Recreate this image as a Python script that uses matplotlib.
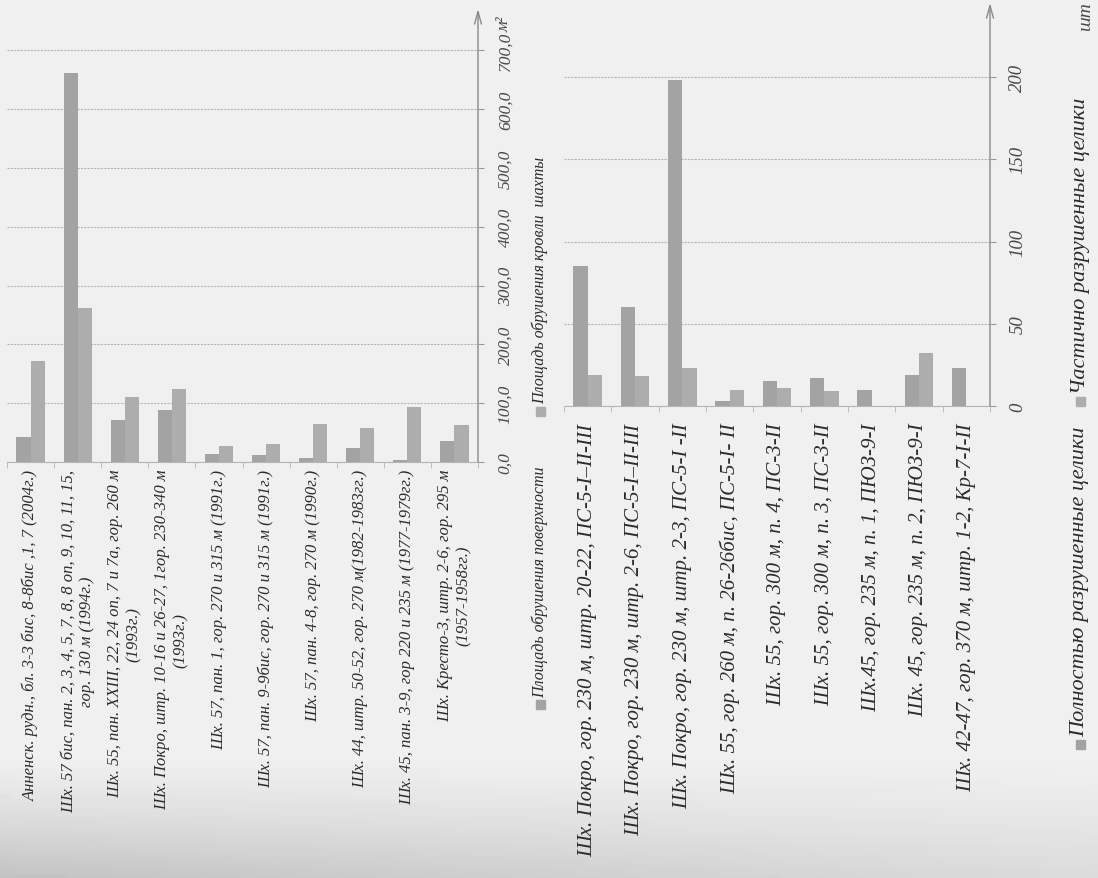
import numpy as np
import matplotlib.pyplot as plt
from matplotlib.patches import Rectangle

# left chart: collapse area, m2
left_cats = [
    "Анненск. рудн., бл. 3-3 бис, 8-8бис ,1, 7 (2004г.)",
    "Шх. 57 бис, пан. 2, 3, 4, 5, 7, 8, 8 оп, 9, 10, 11, 15,\nгор. 130 м (1994г.)",
    "Шх. 55, пан. XXIII, 22, 24 оп, 7 и 7а, гор. 260 м\n(1993г.)",
    "Шх. Покро, штр. 10-16 и 26-27, 1гор. 230-340 м\n(1993г.)",
    "Шх. 57, пан. 1, гор. 270 и 315 м (1991г.)",
    "Шх. 57, пан. 9-9бис, гор. 270 и 315 м (1991г.)",
    "Шх. 57, пан. 4-8, гор. 270 м (1990г.)",
    "Шх. 44, штр. 50-52, гор. 270 м(1982-1983гг.)",
    "Шх. 45, пан. 3-9, гор 220 и 235 м (1977-1979гг.)",
    "Шх. Кресто-3, штр. 2-6, гор. 295 м\n(1957-1958гг.)",
]
surface_area = [42, 662, 72, 89, 14, 12, 7, 24, 4, 35]
roof_area = [171, 262, 110, 124, 28, 30, 65, 57, 93, 63]
left_ticks = [0, 100, 200, 300, 400, 500, 600, 700]
left_ticklabels = ["0,0", "100,0", "200,0", "300,0", "400,0", "500,0", "600,0", "700,0"]
left_legend = ["Площадь обрушения поверхности", "Площадь обрушения кровли  шахты"]

# right chart: destroyed pillars, pcs
right_cats = [
    "Шх. Покро, гор. 230 м, штр. 20-22, ПС-5-I–II-III",
    "Шх. Покро, гор. 230 м, штр. 2-6, ПС-5-I–II-III",
    "Шх. Покро, гор. 230 м, штр. 2-3, ПС-5-I -II",
    "Шх. 55, гор. 260 м, п. 26-26бис, ПС-5-I- II",
    "Шх. 55, гор. 300 м, п. 4, ПС-3-II",
    "Шх. 55, гор. 300 м, п. 3, ПС-3-II",
    "Шх.45, гор. 235 м, п. 1, ПЮЗ-9-I",
    "Шх. 45, гор. 235 м, п. 2, ПЮЗ-9-I",
    "Шх. 42-47, гор. 370 м, штр. 1-2, Кр-7-I-II",
]
full_destroyed = [85, 60, 198, 3, 15, 17, 10, 19, 23]
part_destroyed = [19, 18, 23, 10, 11, 9, 0, 32, 0]
right_ticks = [0, 50, 100, 150, 200]
right_ticklabels = ["0", "50", "100", "150", "200"]
right_legend = ["Полностью разрушенные целики", "Частично разрушенные целики"]

W, H = 1098, 879
bg = "#eeeeee"
c1, c2 = "#a3a3a3", "#adadad"
txt = "#2b2b2b"
font = dict(family="Liberation Serif", style="italic")

fig = plt.figure(figsize=(W / 100, H / 100), dpi=100, facecolor=bg)

# soft page shading
bax = fig.add_axes([0, 0, 1, 1], zorder=-5)
yy, xx = np.mgrid[0:1:200j, 0:1:200j]
shade = 0.94 - 0.16 * np.clip((yy - 0.86) / 0.14, 0, 1) ** 1.3 * (1.1 - 0.6 * xx)
bax.imshow(shade, cmap="gray", vmin=0, vmax=1, aspect="auto", extent=[0, 1, 0, 1])
bax.axis("off")


def px_rect(l, t, r, b):
    return [l / W, 1 - b / H, (r - l) / W, (b - t) / H]


def draw_chart(ax, cats, s1, s2, ymax, ticks, ticklabels, catsize, ticksize, labpad):
    x = np.arange(len(cats))
    bw = 0.3
    ax.bar(x - bw / 2, s1, width=bw, color=c1, zorder=3)
    ax.bar(x + bw / 2, s2, width=bw, color=c2, zorder=3)
    ax.set_xlim(-0.5, len(cats) - 0.5)
    ax.set_ylim(0, ymax)
    ax.set_facecolor("none")
    for s in ["top", "left", "right"]:
        ax.spines[s].set_visible(False)
    ax.spines["bottom"].set_color("#b5b5b5")
    ax.spines["bottom"].set_linewidth(0.8)
    ax.annotate("", xy=(1, 1), xytext=(1, 0), xycoords="axes fraction",
                arrowprops=dict(arrowstyle="->,head_length=0.9,head_width=0.25",
                                color="#8a8a8a", lw=1.0, shrinkA=0, shrinkB=0))
    ax.yaxis.tick_right()
    ax.set_yticks(ticks)
    ax.set_yticklabels(ticklabels, rotation=90, va="center", fontsize=ticksize,
                       color="#4a4a4a", **font)
    ax.tick_params(axis="y", length=4, color="#9a9a9a", pad=10)
    ax.yaxis.grid(True, linestyle=(0, (2, 1)), color="#b5b5b5", lw=0.8, zorder=0)
    ax.set_xticks(x)
    ax.set_xticklabels(cats, rotation=90, fontsize=catsize, color=txt,
                       multialignment="center", **font)
    ax.tick_params(axis="x", length=0, pad=labpad)
    ax.set_xticks(np.arange(len(cats) + 1) - 0.5, minor=True)
    ax.tick_params(axis="x", which="minor", length=4, color="#b5b5b5")


ax1 = fig.add_axes(px_rect(7, 10, 478, 463))
draw_chart(ax1, left_cats, surface_area, roof_area, 770, left_ticks, left_ticklabels,
           12, 12.5, 5)
ax1.text(1.04, 770 * 0.985, "м²", transform=ax1.get_yaxis_transform(),
         rotation=90, ha="left", va="top", fontsize=12, color="#4a4a4a", **font)

ax2 = fig.add_axes(px_rect(564, 4, 990, 407))
draw_chart(ax2, right_cats, full_destroyed, part_destroyed, 245, right_ticks,
           right_ticklabels, 15, 13.5, 12)
fig.text(1086 / W, 1 - 2 / H, "шт", rotation=90, ha="center", va="top",
         fontsize=14, color="#4a4a4a", **font)


def legend_entry(xc, ymark, label, color, size):
    sq = 9
    fig.patches.append(Rectangle(((xc - sq / 2) / W, 1 - (ymark + sq / 2) / H), sq / W, sq / H,
                                 transform=fig.transFigure, color=color, figure=fig))
    fig.text(xc / W, 1 - (ymark - sq / 2 - 3) / H, label, rotation=90, rotation_mode="anchor",
             ha="left", va="center", fontsize=size, color=txt, **font)


legend_entry(540, 705, left_legend[0], c1, 11.5)
legend_entry(540, 412, left_legend[1], c2, 11.5)
legend_entry(1080, 745, right_legend[0], c1, 16)
legend_entry(1080, 402, right_legend[1], c2, 16)

fig.savefig("out.png", dpi=100, facecolor=bg)
